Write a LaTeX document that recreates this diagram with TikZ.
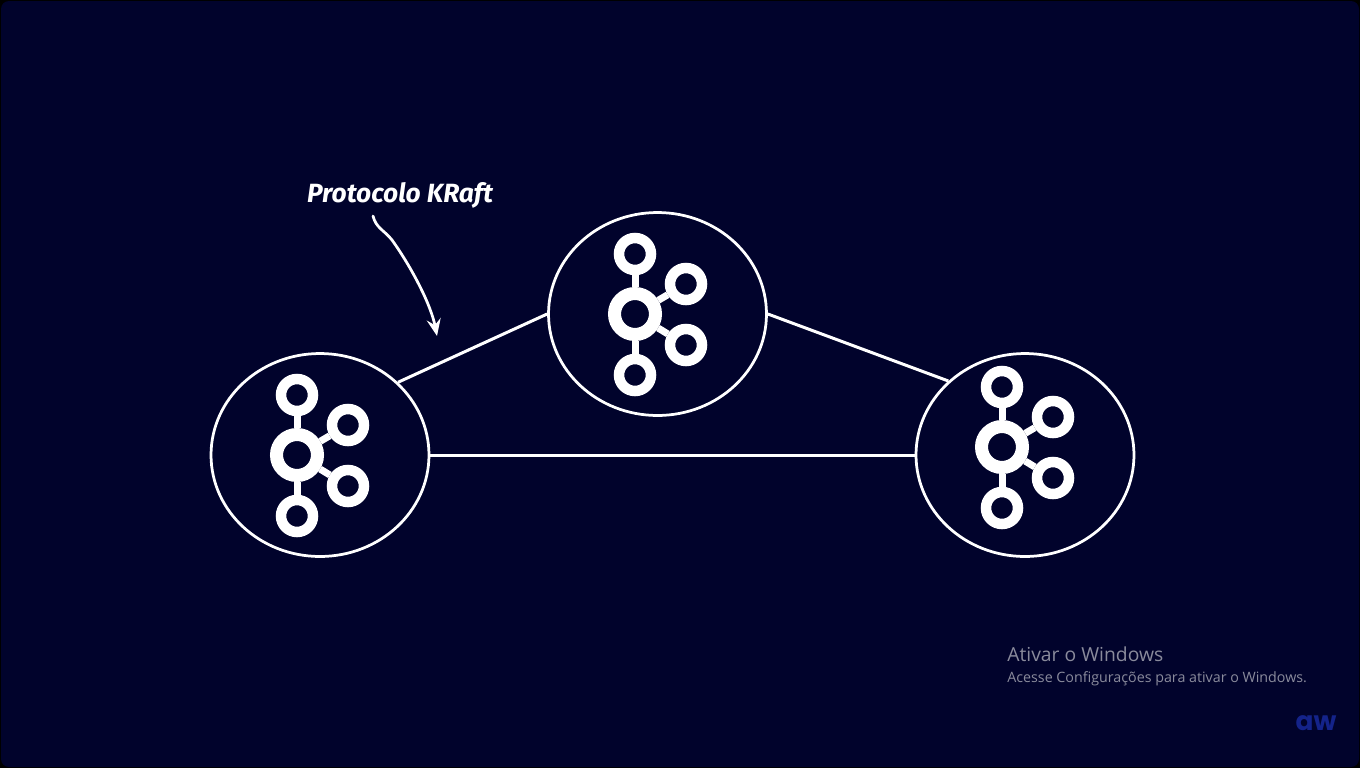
\documentclass[tikz,border=0pt]{standalone}
\usepackage{fontspec}
\usepackage{xcolor}
\usetikzlibrary{shapes.geometric,arrows.meta}
\newfontfamily\notefont{Fira Sans}
\newfontfamily\winfont{Open Sans}
\newfontfamily\logofont{Poppins}
\definecolor{cBack}{HTML}{01032C}
\definecolor{cMark}{HTML}{8A8B9C}
\definecolor{cLogo}{HTML}{14238A}
\newcommand{\kafka}[3]{%
  \node[hub] (#1hub) at (#2,#3) {};
  \node[leaf] (#1top) at (#2,#3-60) {};
  \node[leaf] (#1up) at (#2+51,#3-30) {};
  \node[leaf] (#1low) at (#2+51,#3+31) {};
  \node[leaf] (#1bot) at (#2,#3+61) {};
  \foreach \leafname in {top,up,low,bot}
    \draw[spoke] (#1hub) -- (#1\leafname);}

\begin{document}
\begin{tikzpicture}[x=0.02cm, y=-0.02cm,
  broker/.style={draw=white, ellipse, line width=0.055cm, inner sep=0pt, minimum width=4.36cm, minimum height=4.06cm},
  hub/.style={draw=white, circle, line width=0.26cm, inner sep=0pt, minimum size=0.82cm},
  leaf/.style={draw=white, circle, line width=0.21cm, inner sep=0pt, minimum size=0.64cm},
  spoke/.style={draw=white, line width=0.14cm},
  link/.style={draw=white, line width=0.06cm},
  note/.style={text=white, font=\notefont\bfseries\itshape\fontsize{15}{17}\selectfont, inner sep=0pt}]
\useasboundingbox (0,0) rectangle (1360,768);
\fill[black] (0,0) rectangle (1360,768);
\fill[cBack, rounded corners=0.16cm] (1,1) rectangle (1359,767);
% ---- the three brokers -----------------------------------------------
\node[broker] (left) at (320,455) {};
\node[broker] (middle) at (657.5,314) {};
\node[broker] (right) at (1025,455) {};
\draw[link] (left.43) -- (middle.west);
\draw[link] (middle.east) -- (right.136);
\draw[link] (left.east) -- (right.west);
% ---- logos inside them -----------------------------------------------
\kafka{l}{297}{455}
\kafka{m}{635}{314}
\kafka{r}{1002}{447}
% ---- protocol note and its arrow --------------------------------------
\node[note] (kraft) at (400,195.5) {Protocolo KRaft};
\coordinate (tail) at (373,216);
\coordinate (tip) at (437,336);
\draw[white, line width=0.055cm, line cap=round, -{Stealth[length=0.34cm, width=0.28cm, inset=0.12cm]}]
  (tail) .. controls (376,228) and (384,230) .. (392,240) .. controls (412,268) and (431,305) .. (tip);
% ---- watermark and corner logo ----------------------------------------
\node[anchor=west, text=cMark, font=\winfont\fontsize{11}{13}\selectfont, inner sep=0pt] (activate) at (1007,654) {Ativar o Windows};
\node[anchor=west, text=cMark, font=\winfont\fontsize{8.12}{10}\selectfont, inner sep=0pt] (settings) at (1007,678.5) {Acesse Configurações para ativar o Windows.};
\node[text=cLogo, font=\logofont\bfseries\fontsize{15}{16}\selectfont, inner sep=0pt] (aw) at (1316,723) {aw};
\end{tikzpicture}
\end{document}
